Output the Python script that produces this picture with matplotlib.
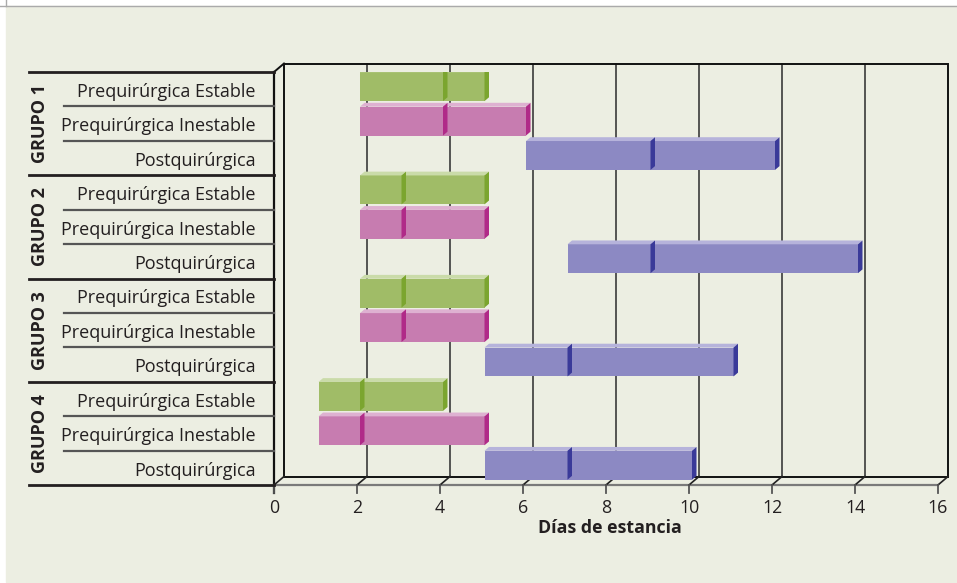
import numpy as np
import matplotlib
matplotlib.use("Agg")
import matplotlib.pyplot as plt
from matplotlib.patches import Rectangle, Polygon
from matplotlib.lines import Line2D

plt.rcParams['font.family'] = ['Open Sans', 'DejaVu Sans']

# data: one row per (group, phase), days of stay
groups = ['GRUPO 1', 'GRUPO 2', 'GRUPO 3', 'GRUPO 4']
phases = ['Prequirúrgica Estable', 'Prequirúrgica Inestable', 'Postquirúrgica']
inicio = [2, 2, 6, 2, 2, 7, 2, 2, 5, 1, 1, 5]
tramo1 = [2, 2, 3, 1, 1, 2, 1, 1, 2, 1, 1, 2]
tramo2 = [1, 2, 3, 2, 2, 5, 2, 2, 4, 2, 3, 3]
xticks = [0, 2, 4, 6, 8, 10, 12, 14, 16]
xlabel = 'Días de estancia'

bg = '#ECEEE2'
txt = '#231F20'
front_cols = ['#A0BC67', '#C77CB0', '#8C89C3']
top_cols = ['#CADBA9', '#DEB1D1', '#B6B3DB']
side_cols = ['#7BA52F', '#B02A88', '#3A3A99']

W, H = 957, 583
fig = plt.figure(figsize=(W / 100, H / 100), dpi=100, facecolor='white')
fig.patches.append(Rectangle((6 / W, 1 - 582 / H), 951 / W, 576 / H,
                             transform=fig.transFigure, color=bg, zorder=-10))
fig.lines.append(Line2D([0, 1], [1 - 5.5 / H] * 2, transform=fig.transFigure,
                        color='#AAAAAA', lw=1, zorder=-5))
fig.lines.append(Line2D([5.5 / W] * 2, [1, 1 - 5.5 / H], transform=fig.transFigure,
                        color='#AAAAAA', lw=1, zorder=-5))

ax = fig.add_axes([274 / W, 1 - 485 / H, (938 - 274) / W, (485 - 72) / H])
ax.set_xlim(0, 16)
ax.set_ylim(11.5, -0.5)
ax.axis('off')

n = len(inicio)
rows = np.arange(n)
# 3d depth of the box (data units)
DX, DY = 10 / 41.5, -8.5 / 34.42
F = 0.3      # bar front face depth
T = 0.45     # bar thickness
BH = 0.84

# back wall
for v in xticks[1:-1]:
    ax.plot([v + DX, v + DX], [-0.5 + DY, 11.5 + DY], color='#3a3a3a', lw=1.2,
            zorder=1, clip_on=False)
ax.add_patch(Rectangle((DX, -0.5 + DY), 16, 12, fill=False, ec='#111111', lw=1.4,
                       zorder=1, clip_on=False))
# left wall and floor
ax.plot([0, 0], [-0.5, 11.5 + 0.23], color='#111111', lw=1.6, zorder=2, clip_on=False)
ax.plot([0, DX], [-0.5, -0.5 + DY], color='#111111', lw=1.4, zorder=2, clip_on=False)
ax.plot([0, 16], [11.5, 11.5], color='#7a7a7a', lw=1.6, zorder=2, clip_on=False)
for v in xticks:
    ax.plot([v, v + DX], [11.5, 11.5 + DY], color='#222222', lw=1.2, zorder=2, clip_on=False)
    ax.plot([v, v], [11.5, 11.5 + 0.23], color='#555555', lw=1.3, zorder=2, clip_on=False)
    ax.text(v, 12.17, str(v), ha='center', va='center', fontsize=12.8, color=txt)
ax.text(8.1, 12.75, xlabel, ha='center', va='center', fontsize=12.8, fontweight='bold',
        color=txt)

# bars
colors = [front_cols[i % 3] for i in rows]
yc = rows + F * DY
left1 = np.array(inicio) + F * DX
left2 = left1 + np.array(tramo1)
ax.barh(yc, tramo1, left=left1, height=BH, color=colors, zorder=3)
ax.barh(yc, tramo2, left=left2, height=BH, color=colors, zorder=3)

tdx, tdy = T * DX, T * DY
for i in rows:
    yt = yc[i] - BH / 2
    for x0, w in [(left1[i], tramo1[i]), (left2[i], tramo2[i])]:
        x1 = x0 + w
        ax.add_patch(Polygon([(x0, yt), (x1, yt), (x1 + tdx, yt + tdy), (x0 + tdx, yt + tdy)],
                             closed=True, color=top_cols[i % 3], lw=0, zorder=4))
    for x0, w in [(left1[i], tramo1[i]), (left2[i], tramo2[i])]:
        x1 = x0 + w
        ax.add_patch(Polygon([(x1, yt), (x1, yt + BH), (x1 + tdx, yt + BH + tdy),
                              (x1 + tdx, yt + tdy)],
                             closed=True, color=side_cols[i % 3], lw=0, zorder=5))

# row labels table
for k in range(n + 1):
    y = -0.5 + k
    if k % 3 == 0:
        ax.plot([-5.9, 0], [y, y], color=txt, lw=2, zorder=2, clip_on=False)
    else:
        ax.plot([-5.06, 0], [y, y], color='#555555', lw=1.6, zorder=2, clip_on=False)
for i in rows:
    ax.text(-0.434, i + 0.08, phases[i % 3], ha='right', va='center', fontsize=13,
            color=txt)
for g, name in enumerate(groups):
    ax.text(-5.64, 3 * g + 1, name, ha='center', va='center', rotation=90,
            fontsize=13, fontweight='bold', color=txt)

fig.savefig('out.png', dpi=100, facecolor='white')
